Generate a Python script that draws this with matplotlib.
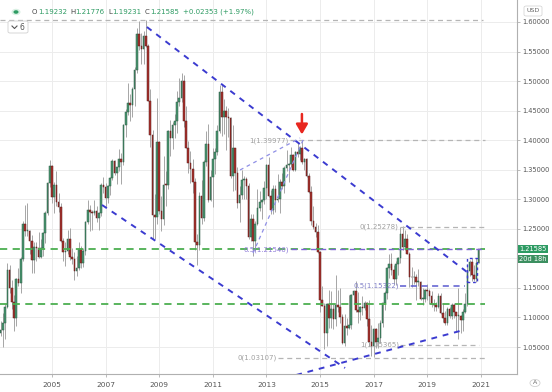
import matplotlib.pyplot as plt
from matplotlib.ticker import FormatStrFormatter, FixedLocator
from matplotlib.patches import Rectangle, Circle, FancyBboxPatch
from matplotlib.lines import Line2D

# EUR/USD monthly candles, Jan 2003 .. Dec 2020 (index 0 = Jan 2003)
opens = [
    1.049, 1.073, 1.079, 1.091, 1.118, 1.181, 1.150, 1.126, 1.099, 1.165, 1.158, 1.199,
    1.259, 1.247, 1.247, 1.230, 1.197, 1.220, 1.217, 1.203, 1.217, 1.243, 1.277, 1.327,
    1.356, 1.304, 1.325, 1.296, 1.287, 1.230, 1.210, 1.213, 1.233, 1.202, 1.199, 1.179,
    1.184, 1.216, 1.192, 1.212, 1.262, 1.282, 1.278, 1.276, 1.281, 1.268, 1.276, 1.324,
    1.320, 1.302, 1.323, 1.336, 1.365, 1.345, 1.354, 1.368, 1.363, 1.426, 1.448, 1.463,
    1.459, 1.486, 1.518, 1.579, 1.560, 1.555, 1.576, 1.560, 1.467, 1.408, 1.273, 1.270,
    1.397, 1.280, 1.267, 1.325, 1.324, 1.415, 1.403, 1.425, 1.433, 1.464, 1.472, 1.500,
    1.432, 1.387, 1.362, 1.351, 1.329, 1.227, 1.223, 1.305, 1.268, 1.363, 1.394, 1.299,
    1.338, 1.369, 1.380, 1.416, 1.481, 1.440, 1.450, 1.439, 1.438, 1.339, 1.386, 1.345,
    1.294, 1.308, 1.332, 1.334, 1.323, 1.237, 1.266, 1.230, 1.258, 1.286, 1.296, 1.299,
    1.319, 1.358, 1.306, 1.282, 1.317, 1.299, 1.301, 1.330, 1.322, 1.353, 1.358, 1.359,
    1.375, 1.349, 1.380, 1.377, 1.387, 1.363, 1.369, 1.339, 1.313, 1.263, 1.253, 1.245,
    1.210, 1.129, 1.120, 1.073, 1.122, 1.099, 1.115, 1.098, 1.121, 1.118, 1.100, 1.057,
    1.086, 1.083, 1.087, 1.138, 1.145, 1.113, 1.110, 1.117, 1.116, 1.124, 1.098, 1.059,
    1.052, 1.080, 1.058, 1.065, 1.090, 1.124, 1.142, 1.184, 1.191, 1.181, 1.165, 1.190,
    1.200, 1.241, 1.219, 1.232, 1.208, 1.169, 1.168, 1.169, 1.160, 1.160, 1.131, 1.132,
    1.147, 1.145, 1.137, 1.122, 1.121, 1.117, 1.137, 1.108, 1.099, 1.090, 1.115, 1.102,
    1.121, 1.109, 1.103, 1.103, 1.096, 1.110, 1.123, 1.178, 1.194, 1.172, 1.165, 1.19232,
]
highs = [
    1.088, 1.094, 1.108, 1.122, 1.193, 1.188, 1.164, 1.138, 1.166, 1.184, 1.203, 1.263,
    1.290, 1.293, 1.248, 1.239, 1.228, 1.227, 1.244, 1.233, 1.244, 1.280, 1.330, 1.367,
    1.358, 1.329, 1.348, 1.310, 1.294, 1.234, 1.228, 1.248, 1.252, 1.217, 1.211, 1.204,
    1.228, 1.221, 1.218, 1.264, 1.298, 1.290, 1.282, 1.298, 1.288, 1.278, 1.328, 1.337,
    1.327, 1.325, 1.338, 1.368, 1.367, 1.353, 1.385, 1.379, 1.428, 1.453, 1.497, 1.478,
    1.490, 1.524, 1.590, 1.602, 1.582, 1.584, 1.604, 1.563, 1.487, 1.418, 1.309, 1.472,
    1.399, 1.306, 1.374, 1.348, 1.417, 1.434, 1.430, 1.445, 1.484, 1.506, 1.514, 1.510,
    1.458, 1.399, 1.382, 1.369, 1.336, 1.242, 1.312, 1.333, 1.367, 1.416, 1.428, 1.350,
    1.386, 1.386, 1.425, 1.494, 1.494, 1.470, 1.458, 1.455, 1.440, 1.425, 1.387, 1.355,
    1.323, 1.349, 1.339, 1.338, 1.328, 1.275, 1.275, 1.263, 1.317, 1.314, 1.301, 1.331,
    1.359, 1.371, 1.316, 1.324, 1.324, 1.342, 1.335, 1.345, 1.357, 1.383, 1.362, 1.389,
    1.377, 1.382, 1.397, 1.390, 1.3995, 1.370, 1.370, 1.344, 1.322, 1.289, 1.260, 1.257,
    1.213, 1.153, 1.124, 1.124, 1.146, 1.144, 1.122, 1.1715, 1.146, 1.150, 1.106, 1.106,
    1.099, 1.138, 1.139, 1.146, 1.162, 1.143, 1.119, 1.137, 1.128, 1.126, 1.130, 1.087,
    1.083, 1.083, 1.091, 1.095, 1.127, 1.145, 1.186, 1.207, 1.209, 1.188, 1.196, 1.202,
    1.2537, 1.2555, 1.248, 1.241, 1.210, 1.185, 1.179, 1.173, 1.182, 1.162, 1.150, 1.149,
    1.157, 1.149, 1.145, 1.132, 1.127, 1.141, 1.141, 1.125, 1.111, 1.118, 1.118, 1.124,
    1.124, 1.110, 1.1495, 1.104, 1.114, 1.142, 1.191, 1.197, 1.201, 1.188, 1.200, 1.21776,
]
lows = [
    1.034, 1.069, 1.050, 1.063, 1.116, 1.141, 1.114, 1.077, 1.086, 1.154, 1.141, 1.196,
    1.238, 1.238, 1.208, 1.176, 1.176, 1.196, 1.200, 1.201, 1.204, 1.226, 1.273, 1.320,
    1.293, 1.277, 1.288, 1.279, 1.227, 1.195, 1.187, 1.207, 1.198, 1.191, 1.164, 1.171,
    1.180, 1.183, 1.186, 1.206, 1.259, 1.246, 1.248, 1.274, 1.262, 1.248, 1.271, 1.310,
    1.287, 1.293, 1.308, 1.332, 1.341, 1.326, 1.348, 1.326, 1.358, 1.406, 1.442, 1.432,
    1.440, 1.458, 1.514, 1.552, 1.529, 1.529, 1.558, 1.466, 1.388, 1.233, 1.233, 1.258,
    1.275, 1.246, 1.256, 1.288, 1.317, 1.374, 1.385, 1.404, 1.413, 1.458, 1.464, 1.422,
    1.386, 1.344, 1.327, 1.311, 1.214, 1.188, 1.215, 1.259, 1.264, 1.356, 1.296, 1.297,
    1.287, 1.343, 1.375, 1.413, 1.407, 1.411, 1.384, 1.406, 1.336, 1.314, 1.315, 1.286,
    1.262, 1.300, 1.300, 1.300, 1.233, 1.229, 1.204, 1.213, 1.256, 1.280, 1.266, 1.292,
    1.300, 1.304, 1.275, 1.275, 1.279, 1.296, 1.276, 1.318, 1.310, 1.348, 1.329, 1.354,
    1.348, 1.348, 1.372, 1.367, 1.359, 1.350, 1.338, 1.311, 1.257, 1.250, 1.236, 1.209,
    1.110, 1.119, 1.046, 1.052, 1.082, 1.082, 1.081, 1.085, 1.109, 1.090, 1.056, 1.052,
    1.071, 1.081, 1.081, 1.124, 1.110, 1.091, 1.095, 1.105, 1.112, 1.085, 1.051, 1.035,
    1.034, 1.049, 1.049, 1.057, 1.084, 1.112, 1.131, 1.166, 1.172, 1.157, 1.155, 1.172,
    1.192, 1.215, 1.215, 1.207, 1.151, 1.151, 1.157, 1.130, 1.153, 1.130, 1.121, 1.127,
    1.129, 1.123, 1.118, 1.111, 1.111, 1.116, 1.106, 1.093, 1.088, 1.088, 1.099, 1.098,
    1.099, 1.078, 1.0636, 1.073, 1.077, 1.107, 1.119, 1.171, 1.161, 1.161, 1.160, 1.19231,
]
closes = opens[1:] + [1.21585]

year_labels = ["2005", "2007", "2009", "2011", "2013", "2015", "2017", "2019", "2021"]
year_ticks = [24, 48, 72, 96, 120, 144, 168, 192, 216]   # Jan of each labelled year
price_grid = [1.05, 1.10, 1.15, 1.20, 1.25, 1.30, 1.35, 1.40, 1.45, 1.50, 1.55, 1.60]
# 1.20000 sits under the last-price tag, so it has no label
price_ticks = [p for p in price_grid if p != 1.20]

# drawings: (month index, price) anchors
trend_lines = [
    ((66.5, 1.5915), (209.8, 1.177)),   # upper descending
    ((46.4, 1.2904), (155.2, 1.0146)),  # lower descending
    ((128.3, 0.9976), (206.7, 1.0772)), # rising support
]
wedge_lines = [
    ((108.2, 1.3496), (135.1, 1.4037)),
    ((114.0, 1.2090), (136.4, 1.4003)),
]
green_levels = [1.2154, 1.1225]

UP, DOWN = "#4a9670", "#a8322d"
UP_EDGE, DOWN_EDGE = "#2d5a44", "#5a1c1a"
BLUE = "#3b3bd0"
GRID = "#ececec"
W, H = 552, 392

fig = plt.figure(figsize=(W / 100, H / 100), dpi=100)
fig.patch.set_facecolor("white")
ax = fig.add_axes([0, 1 - 374 / H, 517 / W, 374 / H])
ax.set_xlim(0.72, 232.2)
ax.set_ylim(1.0044, 1.6372)

# grid
for t in year_ticks:
    ax.axvline(t, color=GRID, lw=0.7, zorder=0)
for p in price_grid:
    ax.axhline(p, color=GRID, lw=0.7, zorder=0)

# candles
idx = list(range(len(closes)))
ax.vlines(idx, lows, highs, colors="#a6a6a6", lw=0.7, zorder=2)
bcol = [UP if c >= o else DOWN for o, c in zip(opens, closes)]
ecol = [UP_EDGE if c >= o else DOWN_EDGE for o, c in zip(opens, closes)]
heights = [max(abs(c - o), 0.0012) for o, c in zip(opens, closes)]
bottoms = [min(o, c) for o, c in zip(opens, closes)]
ax.bar(idx, heights, bottom=bottoms, width=0.72, color=bcol, edgecolor=ecol,
       lw=0.35, zorder=3)


# horizontal levels
def hline(p, x0, x1, color, lw=1.0, dash=(4, 3), z=4):
    ax.plot([x0, x1], [p, p], color=color, lw=lw, dashes=dash, zorder=z)


for p in green_levels:
    hline(p, 0.72, 218, "#4caf50", lw=1.3, z=4)
hline(1.6038, 0.72, 217, "#b5b5b5", lw=0.9)
hline(1.39977, 130.6, 218, "#b5b5b5", lw=0.9)
hline(1.03107, 125.2, 218, "#b5b5b5", lw=0.9)
hline(1.21546, 131.0, 218, "#7d63d6", lw=1.0, z=5)
hline(1.25278, 180.0, 218, "#b5b5b5", lw=0.9)
hline(1.15322, 180.0, 209.0, "#5a5ad0", lw=1.1)
hline(1.05365, 180.0, 215.0, "#b5b5b5", lw=0.9)

fib_labels = [
    (130.0, 1.39977, "1(1.39977)", "#a0a0a0"),
    (130.0, 1.21546, "0.5(1.21546)", "#8e7ad8"),
    (124.5, 1.03107, "0(1.03107)", "#a0a0a0"),
    (179.3, 1.25278, "0(1.25278)", "#a0a0a0"),
    (179.3, 1.15322, "0.5(1.15322)", "#8080c8"),
    (179.3, 1.05365, "1(1.05365)", "#a0a0a0"),
]
for x, p, s, c in fib_labels:
    ax.text(x, p, s, ha="right", va="center", fontsize=5, color=c, zorder=6)

# trend lines
for (x0, y0), (x1, y1) in trend_lines:
    ax.plot([x0, x1], [y0, y1], color=BLUE, lw=1.4, dashes=(3, 3), zorder=5)
for (x0, y0), (x1, y1) in wedge_lines:
    ax.plot([x0, x1], [y0, y1], color="#8f8fe6", lw=0.9, dashes=(3, 3), zorder=5)
ax.add_patch(Rectangle((209.9, 1.160), 4.4, 0.0407, fill=False, ec=BLUE,
                       lw=1.0, ls=(0, (2, 2)), zorder=5))

# red arrow at the 2014 high
ax.annotate("", xy=(135.9, 1.405), xytext=(135.9, 1.449),
            arrowprops=dict(arrowstyle="-|>,head_width=0.35,head_length=0.6",
                            color="#e8271f", lw=1.8), zorder=7)

# axes styling
for s in ["top", "left"]:
    ax.spines[s].set_visible(False)
ax.spines["right"].set_color("#b0b0b0")
ax.spines["bottom"].set_color("#b0b0b0")
ax.spines["right"].set_linewidth(0.8)
ax.spines["bottom"].set_linewidth(0.8)
ax.yaxis.tick_right()
ax.yaxis.set_major_locator(FixedLocator(price_ticks))
ax.yaxis.set_major_formatter(FormatStrFormatter("%.5f"))
ax.tick_params(axis="y", length=2, width=0.6, color="#b0b0b0", pad=1.5,
               labelsize=4.8, labelcolor="#555555")
ax.set_xticks(year_ticks)
ax.set_xticklabels(year_labels)
ax.tick_params(axis="x", length=2, width=0.6, color="#b0b0b0", pad=4,
               labelsize=5.3, labelcolor="#555555")

# price tags on the right axis
ax.text(1.004, 1.21585, "1.21585", transform=ax.get_yaxis_transform(),
        fontsize=4.8, color="white", va="center", ha="left", zorder=10,
        bbox=dict(boxstyle="square,pad=0.2", fc="#2e9b63", ec="none"), clip_on=False)
ax.text(1.004, 1.1988, "20d 18h", transform=ax.get_yaxis_transform(),
        fontsize=4.8, color="white", va="center", ha="left", zorder=10,
        bbox=dict(boxstyle="square,pad=0.2", fc="#3c8f60", ec="none"), clip_on=False)


# header
def fx(px):
    return px / W


def fy(py):
    return 1 - py / H


fig.patches.append(Circle((fx(16), fy(12)), 4.5 / W, transform=fig.transFigure,
                          fc="#d9f0e3", ec="none"))
fig.patches.append(Circle((fx(16), fy(12)), 2.5 / W, transform=fig.transFigure,
                          fc="#2e9b63", ec="none"))
ohlc = [("O", "1.19232", 32, 6), ("H", "1.21776", 70, 5.5),
        ("L", "1.19231", 108, 4.5), ("C", "1.21585", 145, 5.5)]
for lab, val, px, off in ohlc:
    fig.text(fx(px), fy(12), lab, fontsize=5, color="#444444", va="center")
    fig.text(fx(px + off), fy(12), val, fontsize=5, color="#2e9b63", va="center")
fig.text(fx(183), fy(12), "+0.02353 (+1.97%)", fontsize=5, color="#2e9b63",
         va="center")

fig.patches.append(FancyBboxPatch((fx(8), fy(33)), 20 / W, 12 / H,
                                  boxstyle="round,pad=0,rounding_size=0.004",
                                  transform=fig.transFigure, fc="white",
                                  ec="#d0d0d0", lw=0.6))
fig.lines.append(Line2D([fx(12), fx(14.5), fx(17)], [fy(26), fy(28.5), fy(26)],
                        transform=fig.transFigure, color="#555555", lw=0.8))
fig.text(fx(20), fy(27), "6", fontsize=5.5, color="#555555", va="center")

fig.patches.append(FancyBboxPatch((fx(524), fy(16)), 18 / W, 10 / H,
                                  boxstyle="round,pad=0,rounding_size=0.004",
                                  transform=fig.transFigure, fc="white",
                                  ec="#d0d0d0", lw=0.5))
fig.text(fx(533), fy(11), "USD", fontsize=4.5, color="#666666", ha="center",
         va="center")
fig.patches.append(Circle((fx(535), fy(383)), 5 / W, transform=fig.transFigure,
                          fc="white", ec="#d0d0d0", lw=0.6))
fig.text(fx(535), fy(383), "A", fontsize=4.5, color="#666666", ha="center",
         va="center")

fig.savefig("out.png", dpi=100)
